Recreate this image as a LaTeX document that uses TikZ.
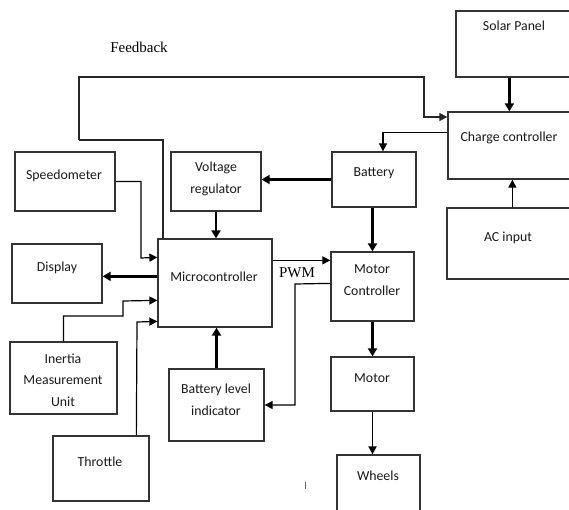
\documentclass[tikz,border=0pt]{standalone}
\usepackage{fontspec}
\setmainfont{Carlito}
\newfontfamily\serifx{Liberation Serif}
\usetikzlibrary{arrows.meta,calc}
\tikzset{
  box/.style={draw=black!80, line width=1.3pt, rectangle, inner sep=0pt, fill=none},
  txt/.style={font=\fontsize{13.8}{21.5}\selectfont, align=center, inner sep=0pt, text=black!90},
  lbl/.style={font=\serifx\fontsize{15}{18}\selectfont, inner sep=0pt},
  thinline/.style={line width=1.1pt, black!85},
  tarrow/.style={line width=1.2pt, -{Triangle[length=8pt,width=8pt]}},
  Tarrow/.style={line width=2.8pt, -{Triangle[length=8pt,width=9pt]}},
  marrow/.style={line width=1.8pt, -{Triangle[length=8pt,width=8pt]}},
}
\newcommand\bx[5]{\node[box, minimum width=#4-#2, minimum height=#5-#3] (#1) at ({(#2+#4)/2},{(#3+#5)/2}) {};}
\begin{document}
\begin{tikzpicture}[x=1pt,y=-1pt]
\useasboundingbox (0,0) rectangle (569,509);
\clip (0,0) rectangle (569,509);
\fill[white] (0,0) rectangle (569,509);
% boxes
\bx{solar}{456}{11}{580}{77}
\bx{cc}{448}{112}{580}{179}
\bx{ac}{447}{208}{580}{279}
\bx{bat}{332}{152}{416}{207}
\bx{vr}{171}{152}{261}{211}
\bx{spd}{15}{152}{115}{211}
\bx{disp}{12}{244}{102}{303}
\bx{mc}{158}{239}{272}{327}
\bx{imu}{10}{342}{117}{414}
\bx{thr}{53}{436}{149}{501}
\bx{bli}{169}{369}{264}{441}
\bx{motc}{331}{252}{414}{321}
\bx{mot}{331}{357}{414}{411}
\bx{wh}{337}{455}{420}{525}
% texts
\node[txt] (solarT) at (514,26) {Solar Panel};
\node[txt] (ccT) at (509,138) {Charge controller};
\node[txt] (acT) at (508,238) {AC input};
\node[txt] (batT) at (374,173) {Battery};
\node[txt] (vrT) at (216,179) {Voltage\\regulator};
\node[txt] (spdT) at (64,176) {Speedometer};
\node[txt] (dispT) at (57,268) {Display};
\node[txt] (mcT) at (214,277) {Microcontroller};
\node[txt] (imuT) at (63,380) {Inertia\\Measurement\\Unit};
\node[txt] (thrT) at (100,462) {Throttle};
\node[txt] (bliT) at (216,400) {Battery level\\indicator};
\node[txt] (motcT) at (372,280) {Motor\\Controller};
\node[txt] (motT) at (372,378) {Motor};
\node[txt] (whT) at (378,476) {Wheels};
\node[lbl] (fbT) at (139,47) {Feedback};
\node[lbl] (pwmT) at (297,273) {PWM};
% feedback
\coordinate (fbA) at (79,140);
\coordinate (fbM) at (163,140);
\coordinate (fbR) at (424,117);
\draw[thinline, tarrow] (fbA) -- (79,77) -- (424,77) -- (fbR) -- (fbR -| cc.west);
\draw[thinline] (fbA) -- (fbM) -- (fbM |- mc.north);
% connectors
\draw[tarrow] (spd.east) -- (141,181.5) -- (141,258) -- ($(mc.north west)+(0,19)$);
\draw[Tarrow] (vr.south) -- (vr.south |- mc.north);
\draw[Tarrow] (bat.west) -- (bat.west -| vr.east);
\draw[tarrow] ($(cc.north west)+(0,21)$) -| ($(bat.north)+(9,0)$);
\draw[Tarrow] ($(solar.south west)+(54,0)$) -- ($(cc.north west)+(62,0)$);
\draw[tarrow] ($(ac.north west)+(66,0)$) -- ($(cc.south west)+(65,0)$);
\draw[Tarrow] (motc.north |- bat.south) -- (motc.north);
\draw[Tarrow] ($(mc.north west)+(0,38)$) -- ($(disp.north east)+(0,33)$);
\draw[tarrow] (imu.north) -- (63.5,316) -- (123,316) -- (123,301) -- ($(mc.north west)+(0,62)$);
\draw[tarrow] ($(thr.north west)+(84,0)$) -- (137,322) -- ($(mc.north west)+(0,83)$);
\draw[Tarrow] (bli.north) -- (bli.north |- mc.south);
\draw[tarrow] ($(mc.north east)+(0,22)$) -- ($(motc.north west)+(0,9)$);
\draw[tarrow] ($(motc.north west)+(0,32)$) -- (295,284) -- (295,405) -- (bli.east);
\draw[Tarrow] (motc.south) -- (mot.north);
\draw[marrow] (mot.south) -- (mot.south |- wh.north);
% stray tick
\draw[black!60, line width=0.8pt] (305,482) -- (305,489);
\end{tikzpicture}
\end{document}
